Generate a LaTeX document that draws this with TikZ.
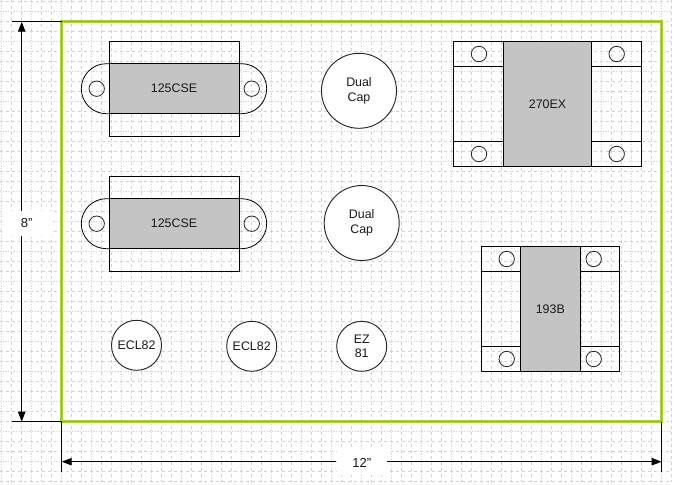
\documentclass[tikz,border=0pt]{standalone}
\usepackage{fontspec}
\setmainfont{Liberation Sans}
\usetikzlibrary{arrows.meta}
\definecolor{limeedge}{RGB}{172,212,50}
\definecolor{limecore}{RGB}{150,192,24}
\tikzset{
  x=0.75pt,y=-0.75pt,
  partline/.style={draw=black,line width=0.7pt},
  labeltext/.style={font=\fontsize{9.3}{11.2}\selectfont,align=center,text=black!90},
  corebox/.style={partline,fill=black!23,inner sep=0pt,labeltext},
  lug/.style={partline,fill=none,inner sep=0pt},
  hole/.style={circle,draw=black!85,line width=0.6pt,inner sep=0pt,minimum size=15.4*0.75pt},
  roundpart/.style={circle,draw=black!85,line width=0.7pt,fill=white,inner sep=0pt,labeltext},
  dim/.style={draw=black,line width=0.75pt},
  dimarrow/.style={dim,-{Triangle[length=7.5pt,width=5.5pt]}},
  dimlabel/.style={labeltext,font=\fontsize{9.8}{11.2}\selectfont,fill=white,inner sep=0pt,minimum width=50*0.75pt,minimum height=25*0.75pt},
  gridstrong/.style={draw=black!18,line width=0.75pt,dash pattern=on 2.25pt off 2.25pt},
  gridlight/.style={draw=black!16,line width=0.6pt,dash pattern=on 0.9pt off 1.1pt},
}
\newcommand{\boxat}[6]{% name, x1, y1, x2, y2, style
  \node[#6,minimum width={((#4)-(#2))*0.75pt},minimum height={((#5)-(#3))*0.75pt}] (#1) at ({((#2)+(#4))/2},{((#3)+(#5))/2}) {};}
\begin{document}
\begin{tikzpicture}
\useasboundingbox (0,0) rectangle (678,485);
\fill[white] (0,0) rectangle (678,485);
% grid
\foreach \k in {0,...,67}{
  \pgfmathtruncatemacro{\m}{mod(\k,3)}
  \ifnum\m=0 \draw[gridlight] ({1.7+10*\k},0) -- ({1.7+10*\k},481.7);
  \else \draw[gridstrong] ({1.7+10*\k},0) -- ({1.7+10*\k},481.7); \fi
}
\foreach \k in {0,...,48}{
  \pgfmathtruncatemacro{\m}{mod(\k,3)}
  \ifnum\m=1 \draw[gridlight] (0,{1.5+10*\k}) -- (671.7,{1.5+10*\k});
  \else \draw[gridstrong] (0,{1.5+10*\k}) -- (671.7,{1.5+10*\k}); \fi
}
% chassis outline
\draw[draw=limeedge,line width=2.4pt] (61.7,21.7) rectangle (661.7,421.7);
\draw[draw=limecore,line width=0.8pt] (61.7,21.7) rectangle (661.7,421.7);
% dimensions
\coordinate (ta) at (11.7,21.7); \coordinate (tb) at (61.7,21.7);
\coordinate (ba) at (11.7,421.7); \coordinate (bb) at (61.7,421.7);
\coordinate (vt) at (21.7,21.7); \coordinate (vb) at (21.7,421.7);
\coordinate (la) at (61.7,421.7); \coordinate (lb) at (61.7,471.7);
\coordinate (ra) at (661.7,421.7); \coordinate (rb) at (661.7,471.7);
\coordinate (hl) at (61.7,461.7); \coordinate (hr) at (661.7,461.7);
\draw[dim] (ta) -- (tb); \draw[dim] (ba) -- (bb);
\draw[dim] (la) -- (lb); \draw[dim] (ra) -- (rb);
\node[dimlabel] (lblh) at (26.7,223.5) {8"};
\node[dimlabel] (lblw) at (361.7,462.5) {12"};
\draw[dimarrow] (vt |- lblh.north) -- (vt);
\draw[dimarrow] (vb |- lblh.south) -- (vb);
\draw[dimarrow] (lblw.west |- hl) -- (hl);
\draw[dimarrow] (lblw.east |- hr) -- (hr);
% 125CSE output transformers
\foreach \n/\dy in {a/0,b/135}{
  \draw[partline,line width=0.6pt] (109,{63.7+\dy}) -- (106.3,{63.7+\dy})
     arc[start angle=270,end angle=90,radius=25] -- (109,{113.7+\dy});
  \draw[partline,line width=0.6pt] (239,{63.7+\dy}) -- (241.7,{63.7+\dy})
     arc[start angle=-90,end angle=90,radius=25] -- (239,{113.7+\dy});
  \boxat{frame\n}{109}{41.5+\dy}{239}{136+\dy}{lug}
  \node[hole] (hl\n) at (96.7,{88.7+\dy}) {};
  \node[hole] (hr\n) at (251.7,{88.7+\dy}) {};
  \node[corebox,minimum width=130*0.75pt,minimum height=50*0.75pt] (core\n) at (174,{88.7+\dy}) {125CSE};
}
% 270EX
\boxat{px}{453.7}{41.7}{641.7}{166}{lug}
\boxat{pxa}{453.7}{41.7}{503.3}{66.3}{lug}
\boxat{pxb}{591.7}{41.7}{641.7}{66.3}{lug}
\boxat{pxc}{453.7}{141.3}{503.3}{166}{lug}
\boxat{pxd}{591.7}{141.3}{641.7}{166}{lug}
\node[corebox,minimum width=88.4*0.75pt,minimum height=124.3*0.75pt] (pxcore) at (547.5,103.85) {270EX};
\node[hole] (pxh1) at (479,54) {}; \node[hole] (pxh2) at (616.7,54) {};
\node[hole] (pxh3) at (479,154) {}; \node[hole] (pxh4) at (616.7,154) {};
% 193B
\boxat{ch}{481.7}{246.7}{619}{371}{lug}
\boxat{cha}{481.7}{246.7}{520.3}{271}{lug}
\boxat{chb}{580.3}{246.7}{619}{271}{lug}
\boxat{chc}{481.7}{346}{520.3}{371}{lug}
\boxat{chd}{580.3}{346}{619}{371}{lug}
\node[corebox,minimum width=60*0.75pt,minimum height=124.3*0.75pt] (chcore) at (550.3,308.85) {193B};
\node[hole] (chh1) at (506.7,259) {}; \node[hole] (chh2) at (593.7,259) {};
\node[hole] (chh3) at (506.7,359) {}; \node[hole] (chh4) at (593.7,359) {};
% round parts
\node[roundpart,minimum size=75*0.75pt] (capa) at (359,90.8) {Dual\\Cap};
\node[roundpart,minimum size=75*0.75pt] (capb) at (361.7,223) {Dual\\Cap};
\node[roundpart,minimum size=50*0.75pt] (tubea) at (136.5,345.3) {ECL82};
\node[roundpart,minimum size=50*0.75pt] (tubeb) at (251.7,346.3) {ECL82};
\node[roundpart,minimum size=50*0.75pt] (tubec) at (361.7,346.3) {EZ\\81};
\end{tikzpicture}
\end{document}
